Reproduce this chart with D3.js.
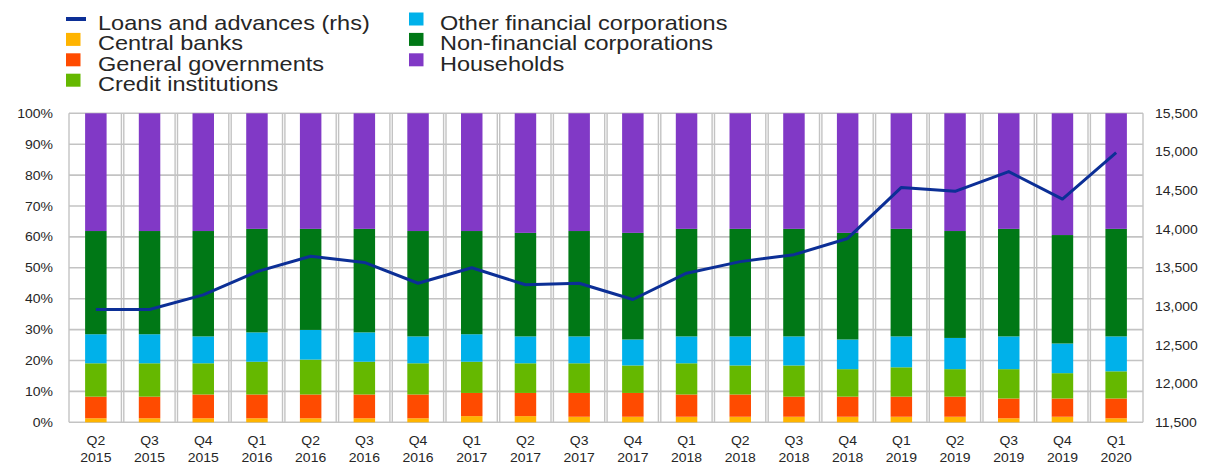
<!DOCTYPE html>
<html>
<head>
<meta charset="utf-8">
<script src="https://cdn.jsdelivr.net/npm/d3@7"></script>
<style>
  body { margin: 0; background: #fff; }
  text { font-family: "Liberation Sans", Arial, sans-serif; fill: #262626; }
</style>
</head>
<body>
<div id="chart"></div>
<script>
// quarters on the x axis
var quarters = ["Q2 2015", "Q3 2015", "Q4 2015", "Q1 2016", "Q2 2016", "Q3 2016", "Q4 2016",
  "Q1 2017", "Q2 2017", "Q3 2017", "Q4 2017", "Q1 2018", "Q2 2018", "Q3 2018", "Q4 2018",
  "Q1 2019", "Q2 2019", "Q3 2019", "Q4 2019", "Q1 2020"];

// shares of each holder sector (%), bottom to top
var centralBanks = [1.3, 1.3, 1.3, 1.3, 1.3, 1.3, 1.3, 2.0, 2.0, 1.8, 1.8, 1.8, 1.8, 1.8, 1.8, 1.8, 1.8, 1.3, 1.8, 1.3];
var generalGovernments = [7.0, 7.0, 7.7, 7.7, 7.7, 7.7, 7.7, 7.5, 7.5, 7.7, 7.7, 7.2, 7.2, 6.5, 6.5, 6.5, 6.5, 6.4, 5.9, 6.4];
var creditInstitutions = [10.8, 10.8, 10.1, 10.6, 11.3, 10.6, 10.1, 10.1, 9.6, 9.6, 8.9, 10.1, 9.4, 10.1, 8.9, 9.5, 8.9, 9.5, 8.2, 8.8];
var otherFinancial = [9.4, 9.4, 8.7, 9.5, 9.6, 9.5, 8.7, 8.9, 8.7, 8.7, 8.4, 8.7, 9.4, 9.4, 9.6, 10.0, 10.1, 10.6, 9.6, 11.3];
var nonFinancial = [33.4, 33.4, 34.1, 33.5, 32.7, 33.5, 34.1, 33.4, 33.5, 34.1, 34.5, 34.8, 34.8, 34.8, 34.5, 34.8, 34.6, 34.8, 35.1, 34.8];
var households = [38.1, 38.1, 38.1, 37.4, 37.4, 37.4, 38.1, 38.1, 38.7, 38.1, 38.7, 37.4, 37.4, 37.4, 38.7, 37.4, 38.1, 37.4, 39.4, 37.4];

// loans and advances (rhs)
var loans = [12960, 12960, 13150, 13450, 13650, 13570, 13300, 13500, 13280, 13300, 13090, 13430, 13580, 13670, 13880, 14540, 14490, 14745, 14390, 14990];

var sectorNames = ["Central banks", "General governments", "Credit institutions",
  "Other financial corporations", "Non-financial corporations", "Households"];
var sectorColors = ["#ffb400", "#ff4b00", "#65b800", "#00b1ea", "#007816", "#8139c6"];
var lineName = "Loans and advances (rhs)";
var lineColor = "#0c2f96";

var width = 1206, height = 465;
var plot = {left: 69, right: 1143, top: 113.3, bottom: 422.3};
var sx = 1.12; // text is drawn a bit wide in the original

var svg = d3.select("#chart").append("svg")
  .attr("width", width).attr("height", height);

// table for the stack
var seriesArr = [centralBanks, generalGovernments, creditInstitutions, otherFinancial, nonFinancial, households];
var table = quarters.map(function (q, i) {
  var row = {q: q};
  sectorNames.forEach(function (s, j) { row[s] = seriesArr[j][i]; });
  return row;
});
var stacked = d3.stack().keys(sectorNames)(table);

var x = d3.scaleBand().domain(quarters).range([plot.left, plot.right])
  .paddingInner(0.6).paddingOuter(0.3);
var xCat = d3.scaleBand().domain(quarters).range([plot.left, plot.right]).padding(0);
var y = d3.scaleLinear().domain([0, 100]).range([plot.bottom, plot.top]);
var yR = d3.scaleLinear().domain([11500, 15500]).range([plot.bottom, plot.top]);

// grid
var grid = svg.append("g").attr("stroke", "#c3c3c3").attr("fill", "none");
grid.selectAll("line.h").data(y.ticks(10)).enter().append("line")
  .attr("class", "h")
  .attr("x1", plot.left).attr("x2", plot.right)
  .attr("y1", d => y(d)).attr("y2", d => y(d))
  .attr("stroke-width", 1.6);
var bounds = quarters.slice(1).map(q => xCat(q));
var vlines = [];
bounds.forEach(function (b) { vlines.push(b - 1.3, b + 1.1); });
vlines.push(plot.left, plot.right);
grid.selectAll("line.v").data(vlines).enter().append("line")
  .attr("class", "v")
  .attr("x1", d => d).attr("x2", d => d)
  .attr("y1", plot.top).attr("y2", plot.bottom)
  .attr("stroke-width", 1.4);

// bars
svg.append("g").selectAll("g").data(stacked).enter().append("g")
  .attr("fill", (d, i) => sectorColors[i])
  .selectAll("rect").data(d => d).enter().append("rect")
  .attr("x", d => x(d.data.q))
  .attr("width", x.bandwidth())
  .attr("y", d => y(d[1]))
  .attr("height", d => y(d[0]) - y(d[1]));

// line
var line = d3.line()
  .x((d, i) => x(quarters[i]) + x.bandwidth() / 2)
  .y(d => yR(d));
svg.append("path").datum(loans)
  .attr("fill", "none")
  .attr("stroke", lineColor)
  .attr("stroke-width", 3)
  .attr("stroke-linejoin", "round")
  .attr("d", line);

// axes
var leftAxis = svg.append("g").attr("transform", `translate(${plot.left},0)`)
  .call(d3.axisLeft(y).ticks(10).tickSize(0).tickFormat(d => d + "%"));
leftAxis.select(".domain").remove();
leftAxis.selectAll("text").attr("x", null)
  .attr("transform", "translate(-16,0) scale(" + sx + ",1)")
  .style("font-size", "12.5px");

var rightAxis = svg.append("g").attr("transform", `translate(${plot.right},0)`)
  .call(d3.axisRight(yR).ticks(8).tickSize(0).tickFormat(d3.format(",")));
rightAxis.select(".domain").remove();
rightAxis.selectAll("text").attr("x", null)
  .attr("transform", "translate(12,0) scale(" + sx + ",1)")
  .style("font-size", "12.5px");

var bottomAxis = svg.append("g").attr("transform", `translate(0,${plot.bottom})`)
  .call(d3.axisBottom(x).tickSize(0).tickFormat(""));
bottomAxis.select(".domain").remove();
bottomAxis.selectAll(".tick text").remove();
bottomAxis.selectAll(".tick").append("text")
  .attr("text-anchor", "middle")
  .attr("transform", "scale(" + sx + ",1)")
  .style("font-size", "12.5px")
  .each(function (d) {
    var parts = d.split(" ");
    var t = d3.select(this);
    t.append("tspan").attr("x", 0).attr("y", 23).text(parts[0]);
    t.append("tspan").attr("x", 0).attr("y", 40).text(parts[1]);
  });

// legend
var legendItems = [{name: lineName, color: lineColor, type: "line"}]
  .concat(sectorNames.map((s, i) => ({name: s, color: sectorColors[i], type: "box"})));
var legendCols = [{x: 66, items: [0, 1, 2, 3]}, {x: 409, items: [4, 5, 6]}];
var legend = svg.append("g");
legendCols.forEach(function (col) {
  col.items.forEach(function (k, r) {
    var item = legendItems[k];
    var cy = 19 + r * 20.4;
    var g = legend.append("g").attr("transform", `translate(${col.x},${cy})`);
    if (item.type === "line") {
      g.append("rect").attr("x", 0).attr("y", -2).attr("width", 20).attr("height", 4)
        .attr("fill", item.color);
    } else {
      g.append("rect").attr("x", 0).attr("y", -6.5).attr("width", 14.5).attr("height", 13)
        .attr("fill", item.color);
    }
    g.append("text")
      .attr("transform", `translate(${col.x === 66 ? 32 : 31},11) scale(${sx},1)`)
      .style("font-size", "21px")
      .text(item.name);
  });
});
</script>
</body>
</html>
